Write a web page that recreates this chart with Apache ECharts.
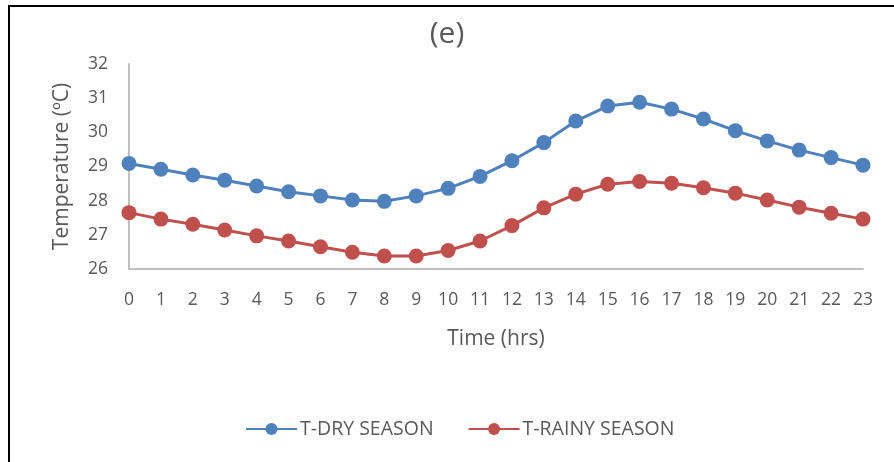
<!DOCTYPE html>
<html>
<head>
<meta charset="utf-8">
<script src="https://cdn.jsdelivr.net/npm/echarts@6/dist/echarts.min.js"></script>
<style>
  html, body { margin: 0; padding: 0; background: #fff; }
  #chart { width: 894px; height: 462px; }
</style>
</head>
<body>
<div id="chart"></div>
<script>
// Hourly temperature profile, dry vs rainy season
const hours = ['0','1','2','3','4','5','6','7','8','9','10','11','12','13','14','15','16','17','18','19','20','21','22','23'];
const tDry = [29.09, 28.92, 28.75, 28.60, 28.43, 28.26, 28.14, 28.02, 27.98, 28.14, 28.36, 28.71,
              29.17, 29.70, 30.33, 30.77, 30.88, 30.68, 30.39, 30.05, 29.75, 29.48, 29.26, 29.04];
const tRainy = [27.65, 27.46, 27.31, 27.14, 26.97, 26.82, 26.65, 26.49, 26.38, 26.38, 26.54, 26.82,
                27.27, 27.79, 28.19, 28.48, 28.56, 28.51, 28.38, 28.22, 28.02, 27.81, 27.63, 27.46];
const yTicks = { min: 26, max: 32, step: 1 };

const FONT = 'Open Sans';
const TEXT = '#595959';
const AXIS = '#bfbfbf';

const chart = echarts.init(document.getElementById('chart'), null, { renderer: 'canvas' });

const seriesStyle = (name, data, color) => ({
  name: name,
  type: 'line',
  data: data,
  symbol: 'circle',
  symbolSize: 15,
  showSymbol: true,
  lineStyle: { color: color, width: 3 },
  itemStyle: { color: color },
  emphasis: { disabled: true },
  animation: false
});

chart.setOption({
  animation: false,
  title: {
    text: '(e)',
    left: 'center',
    top: 14,
    textStyle: { fontFamily: FONT, fontSize: 30, fontWeight: 'normal', color: TEXT }
  },
  grid: { left: 129, right: 31, top: 64, bottom: 193, containLabel: false },
  legend: {
    top: 414,
    left: 240,
    itemGap: 34,
    itemWidth: 51,
    itemHeight: 15,
    textStyle: { fontFamily: FONT, fontSize: 19.5, color: TEXT, padding: [0, 0, 0, -2] },
    data: ['T-DRY SEASON', 'T-RAINY SEASON']
  },
  xAxis: {
    type: 'category',
    data: hours,
    boundaryGap: false,
    name: 'Time (hrs)',
    nameLocation: 'middle',
    nameGap: 60,
    nameTextStyle: { fontFamily: FONT, fontSize: 21, color: TEXT },
    axisLine: { lineStyle: { color: AXIS, width: 2 } },
    axisTick: { show: false },
    axisLabel: { fontFamily: FONT, fontSize: 17.5, color: TEXT, margin: 22, interval: 0 },
    splitLine: { show: false }
  },
  yAxis: {
    type: 'value',
    min: yTicks.min,
    max: yTicks.max,
    interval: yTicks.step,
    name: 'Temperature (ºC)',
    nameLocation: 'middle',
    nameRotate: 90,
    nameGap: 56,
    nameTextStyle: { fontFamily: FONT, fontSize: 21, color: TEXT },
    axisLine: { show: true, lineStyle: { color: AXIS, width: 2 } },
    axisTick: { show: false },
    axisLabel: { fontFamily: FONT, fontSize: 17.5, color: TEXT, margin: 21 },
    splitLine: { show: false }
  },
  series: [
    seriesStyle('T-DRY SEASON', tDry, '#4f81bd'),
    seriesStyle('T-RAINY SEASON', tRainy, '#c0504d')
  ],
  graphic: [{
    type: 'polyline',
    shape: { points: [[9, 462], [9, 6], [894, 6]] },
    style: { stroke: '#000', lineWidth: 2, fill: null },
    silent: true
  }]
});
</script>
</body>
</html>
